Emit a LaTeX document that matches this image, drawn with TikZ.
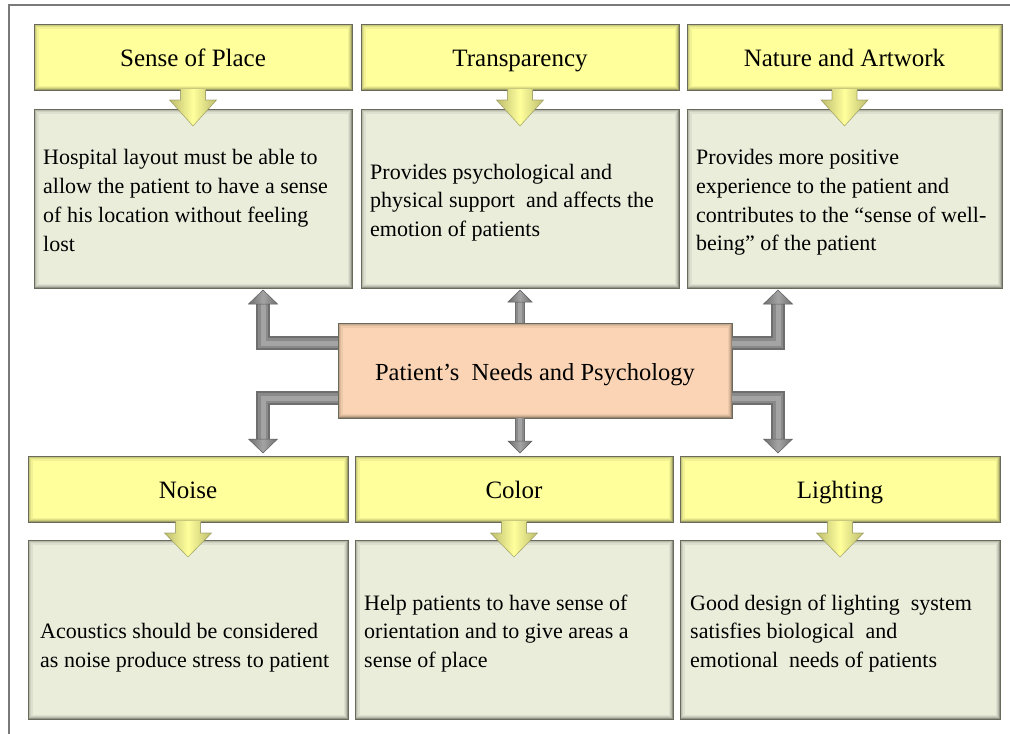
\documentclass[tikz,border=0pt]{standalone}
\usepackage{fontspec}
\setmainfont{Liberation Serif}
\usetikzlibrary{calc}

\definecolor{hdrfill}{HTML}{FFFF9C}
\definecolor{descfill}{HTML}{E9EDDA}
\definecolor{corefill}{HTML}{FAD4B4}
\definecolor{edge}{HTML}{6A6A5C}
\definecolor{tubedark}{HTML}{6E6E6E}
\definecolor{tubemid}{HTML}{8A8A8A}
\definecolor{tubelight}{HTML}{A4A4A4}
\definecolor{framegray}{HTML}{7A7A7A}
\definecolor{yedge}{HTML}{BDBD70}
\definecolor{yline}{HTML}{8E8E50}

\tikzset{
  bevel/.style={path picture={
      \foreach \w/\o in {9/0.05,6.5/0.07,4/0.1,2/0.2}{
        \draw[black,opacity=\o,line width=\w pt]
          (path picture bounding box.south west) rectangle (path picture bounding box.north east);}}},
  panel/.style={draw=edge, line width=0.9pt, inner sep=0pt, outer sep=0pt,
    anchor=north west, bevel},
  header/.style={panel, fill=hdrfill, font=\fontsize{25}{30}\selectfont,
    minimum height=66pt, text height=19pt, text depth=0pt},
  desc/.style={panel, fill=descfill, minimum height=179pt},
  desctext/.style={anchor=west, inner sep=0pt, align=left,
    font=\fontsize{22}{28.7}\selectfont},
  core/.style={panel, fill=corefill, font=\fontsize{24.5}{29}\selectfont,
    minimum width=394pt, minimum height=95pt, text height=19pt, text depth=0pt},
  tubeA/.style={draw=tubedark, line width=#1},
  tubeB/.style={draw=tubemid, line width=#1},
  tubeC/.style={draw=tubelight, line width=#1},
  headfill/.style={left color=tubedark, right color=tubedark, middle color=tubelight,
    draw=tubedark!85!black, line width=0.5pt, line join=miter},
  yarrowfill/.style={left color=yedge, right color=yedge, middle color=hdrfill},
  yarrowedge/.style={draw=yline, line width=0.6pt, opacity=0.7},
}

% fat grey connector: three strokes of decreasing width give a rounded tube
\newcommand\tube[4]{% path, outer, middle, inner width
  \draw[tubeA=#2] #1; \draw[tubeB=#3] #1; \draw[tubeC=#4] #1;}
% grey arrow head: tip, half width, signed length towards the base
\newcommand\ghead[3]{%
  \path[headfill] ($(#1)+(-#2,#3)$) -- (#1) -- ($(#1)+(#2,#3)$) -- cycle;}
% yellow block arrow from a heading into its description
\newcommand\yarrow[3]{% header, description, head offset below header
  \path[yarrowfill] ($(#1.south)+(-12.5,-1)$) -- ($(#1.south)+(-12.5,#3)$)
    -- ($(#1.south)+(-23.5,#3)$) -- ($(#2.north)+(0,17)$)
    -- ($(#1.south)+(23.5,#3)$) -- ($(#1.south)+(12.5,#3)$)
    -- ($(#1.south)+(12.5,-1)$) -- cycle;
  \draw[yarrowedge] ($(#1.south)+(-12.5,0.6)$) -- ($(#1.south)+(-12.5,#3)$)
    -- ($(#1.south)+(-23.5,#3)$) -- ($(#2.north)+(0,17)$)
    -- ($(#1.south)+(23.5,#3)$) -- ($(#1.south)+(12.5,#3)$)
    -- ($(#1.south)+(12.5,0.6)$);}

\begin{document}
\begin{tikzpicture}[x=1pt,y=-1pt]
\useasboundingbox[fill=white] (0,0) rectangle (1010,734);

% page frame
\draw[framegray, line width=1.3pt] (9,740) -- (9,5) -- (1020,5);

% upper row
\node[header, minimum width=318pt] (h1) at (34,24) {Sense of Place};
\node[header, minimum width=318pt] (h2) at (361,24) {Transparency};
\node[header, minimum width=315pt] (h3) at (687,24) {Nature and Artwork};

\node[desc, minimum width=318pt] (d1) at (34,109) {};
\node[desc, minimum width=318pt] (d2) at (361,109) {};
\node[desc, minimum width=315pt] (d3) at (687,109) {};

\node[desctext] (d1t) at ($(d1.west)+(9,2)$)
  {Hospital layout must be able to\\allow the patient to have a sense\\of his location without feeling\\lost};
\node[desctext] (d2t) at ($(d2.west)+(9,4)$)
  {Provides psychological and\\physical support\ \ and affects the\\emotion of patients};
\node[desctext] (d3t) at ($(d3.west)+(9,4)$)
  {Provides more positive\\experience to the patient and\\contributes to the “sense of well-\\being” of the patient};

% lower row
\node[header, minimum width=320pt] (h4) at (28,456) {Noise};
\node[header, minimum width=318pt] (h5) at (355,456) {Color};
\node[header, minimum width=320pt] (h6) at (680,456) {Lighting};

\node[desc, minimum width=320pt] (d4) at (28,540) {};
\node[desc, minimum width=318pt] (d5) at (355,540) {};
\node[desc, minimum width=320pt] (d6) at (680,540) {};

\node[desctext] (d4t) at ($(d4.west)+(12,18)$)
  {Acoustics should be considered\\as noise produce stress to patient};
\node[desctext] (d5t) at ($(d5.west)+(9,4)$)
  {Help patients to have sense of\\orientation and to give areas a\\sense of place};
\node[desctext] (d6t) at ($(d6.west)+(10,4)$)
  {Good design of lighting\ \ system\\satisfies biological\ \ and\\emotional\ \ needs of patients};

% heading arrows
\yarrow{h1}{d1}{10}
\yarrow{h2}{d2}{10}
\yarrow{h3}{d3}{10}
\yarrow{h4}{d4}{11}
\yarrow{h5}{d5}{11}
\yarrow{h6}{d6}{11}

% central theme
\node[core] (c) at (338,323) {Patient’s\ \ Needs and Psychology};

% bend columns of the side connectors
\coordinate (xl) at (263,0);
\coordinate (xr) at (778,0);

% arrow tips
\coordinate (t1) at ($(d1.south -| xl)+(0,2)$);
\coordinate (t2) at ($(d2.south)+(0,2)$);
\coordinate (t3) at ($(d3.south -| xr)+(0,2)$);
\coordinate (t4) at ($(h4.north -| xl)+(0,-3)$);
\coordinate (t5) at ($(h5.north -| d2.south)+(0,-3)$);
\coordinate (t6) at ($(h6.north -| xr)+(0,-3)$);

% connectors from the central theme
\tube{($(c.north west)+(0,20)$) -| ($(t1)+(0,14)$)}{14pt}{10.5pt}{5pt}
\tube{(c.north -| t2) -- ($(t2)+(0,12)$)}{10pt}{7.5pt}{3.5pt}
\tube{($(c.north east)+(0,20)$) -| ($(t3)+(0,14)$)}{14pt}{10.5pt}{5pt}
\tube{($(c.south west)+(0,-20)$) -| ($(t4)+(0,-14)$)}{14pt}{10.5pt}{5pt}
\tube{(c.south -| t5) -- ($(t5)+(0,-12)$)}{10pt}{7.5pt}{3.5pt}
\tube{($(c.south east)+(0,-20)$) -| ($(t6)+(0,-14)$)}{14pt}{10.5pt}{5pt}

\ghead{t1}{14.5}{14}
\ghead{t2}{12}{12}
\ghead{t3}{14.5}{14}
\ghead{t4}{14.5}{-14}
\ghead{t5}{12}{-12}
\ghead{t6}{14.5}{-14}
\end{tikzpicture}
\end{document}
